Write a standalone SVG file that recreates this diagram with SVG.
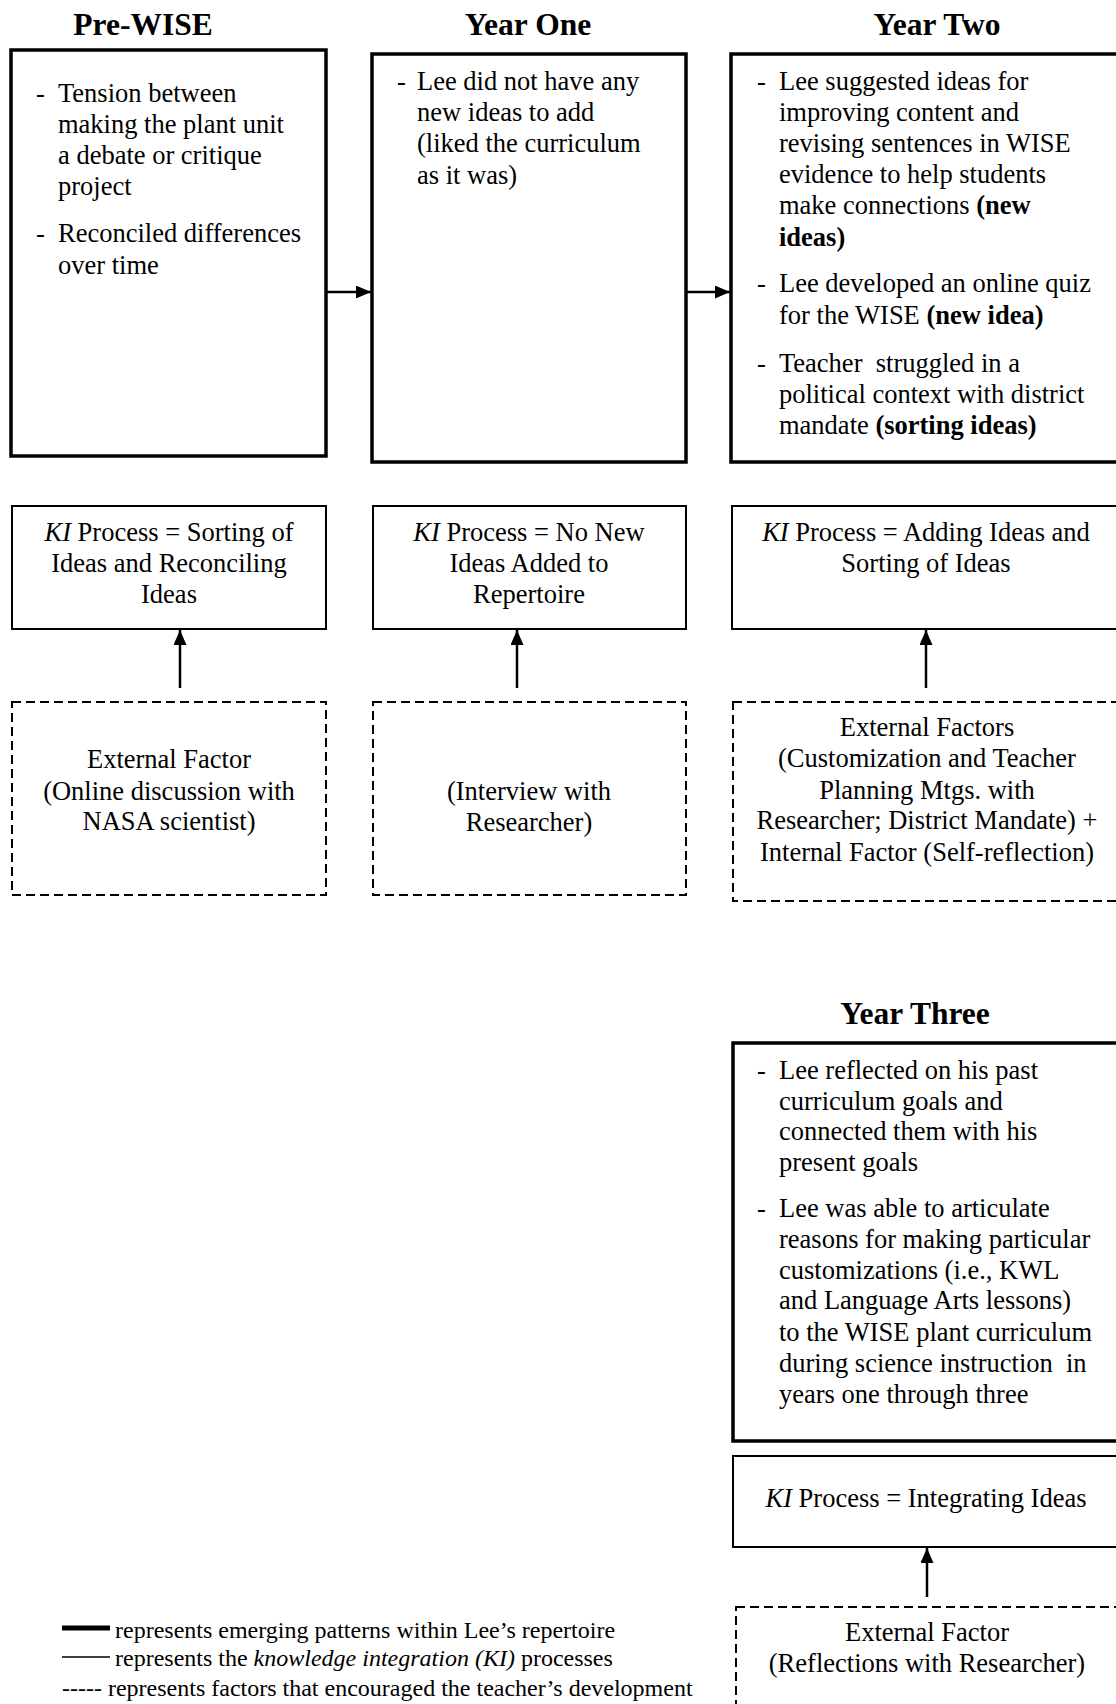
<svg xmlns="http://www.w3.org/2000/svg" width="1116" height="1704" viewBox="0 0 1116 1704">
<style>
text { font-family: "Liberation Serif", "Times New Roman", serif; fill: #000; }
.title { font-size: 31.5px; font-weight: bold; text-anchor: middle; }
.body { font-size: 26.5px; }
.c { text-anchor: middle; }
.b { font-weight: bold; }
.i { font-style: italic; }
.legend { font-size: 24px; }
.thick { fill: #fff; stroke: #000; stroke-width: 3.5; }
.thin { fill: #fff; stroke: #000; stroke-width: 2; }
.dash { fill: none; stroke: #000; stroke-width: 2; stroke-dasharray: 9 5; }
.conn { stroke: #000; stroke-width: 2.5; fill: none; }
</style>
<defs>
<marker id="ah" viewBox="0 0 15 13" refX="15" refY="6.5" markerWidth="15" markerHeight="13" markerUnits="userSpaceOnUse" orient="auto">
<path d="M0,0 L15,6.5 L0,13 Z" fill="#000"/>
</marker>
</defs>
<rect width="1116" height="1704" fill="#fff"/>

<g id="prewise">
<text class="title" x="143" y="35">Pre-WISE</text>
<rect class="thick" x="11" y="50" width="315" height="406"/>
<text class="body" x="36" y="102">-</text>
<text class="body" x="58" y="102">Tension between</text>
<text class="body" x="58" y="133">making the plant unit</text>
<text class="body" x="58" y="164">a debate or critique</text>
<text class="body" x="58" y="195">project</text>
<text class="body" x="36" y="242">-</text>
<text class="body" x="58" y="242">Reconciled differences</text>
<text class="body" x="58" y="274">over time</text>
</g>

<g id="yearone">
<text class="title" x="528" y="35">Year One</text>
<rect class="thick" x="372" y="54" width="314" height="408"/>
<text class="body" x="397" y="90">-</text>
<text class="body" x="417" y="90">Lee did not have any</text>
<text class="body" x="417" y="121">new ideas to add</text>
<text class="body" x="417" y="152">(liked the curriculum</text>
<text class="body" x="417" y="184">as it was)</text>
</g>

<g id="yeartwo">
<text class="title" x="937" y="35">Year Two</text>
<rect class="thick" x="731" y="54" width="400" height="408"/>
<text class="body" x="757" y="90">-</text>
<text class="body" x="779" y="90">Lee suggested ideas for</text>
<text class="body" x="779" y="121">improving content and</text>
<text class="body" x="779" y="152">revising sentences in WISE</text>
<text class="body" x="779" y="183">evidence to help students</text>
<text class="body" x="779" y="214">make connections <tspan class="b">(new</tspan></text>
<text class="body b" x="779" y="246">ideas)</text>
<text class="body" x="757" y="292">-</text>
<text class="body" x="779" y="292">Lee developed an online quiz</text>
<text class="body" x="779" y="324">for the WISE <tspan class="b">(new idea)</tspan></text>
<text class="body" x="757" y="372">-</text>
<text class="body" x="779" y="372" xml:space="preserve">Teacher  struggled in a</text>
<text class="body" x="779" y="403">political context with district</text>
<text class="body" x="779" y="434">mandate <tspan class="b">(sorting ideas)</tspan></text>
</g>

<g id="ki-prewise">
<rect class="thin" x="12" y="506" width="314" height="123"/>
<text class="body c" x="169" y="541"><tspan class="i">KI</tspan> Process = Sorting of</text>
<text class="body c" x="169" y="572">Ideas and Reconciling</text>
<text class="body c" x="169" y="603">Ideas</text>
</g>

<g id="ki-yearone">
<rect class="thin" x="373" y="506" width="313" height="123"/>
<text class="body c" x="529" y="541"><tspan class="i">KI</tspan> Process = No New</text>
<text class="body c" x="529" y="572">Ideas Added to</text>
<text class="body c" x="529" y="603">Repertoire</text>
</g>

<g id="ki-yeartwo">
<rect class="thin" x="732" y="506" width="400" height="123"/>
<text class="body c" x="926" y="541"><tspan class="i">KI</tspan> Process = Adding Ideas and</text>
<text class="body c" x="926" y="572">Sorting of Ideas</text>
</g>

<g id="ext-prewise">
<rect class="dash" x="12" y="702" width="314" height="193"/>
<text class="body c" x="169" y="768">External Factor</text>
<text class="body c" x="169" y="800">(Online discussion with</text>
<text class="body c" x="169" y="830">NASA scientist)</text>
</g>

<g id="ext-yearone">
<rect class="dash" x="373" y="702" width="313" height="193"/>
<text class="body c" x="529" y="800">(Interview with</text>
<text class="body c" x="529" y="831">Researcher)</text>
</g>

<g id="ext-yeartwo">
<rect class="dash" x="733" y="702" width="400" height="199"/>
<text class="body c" x="927" y="736">External Factors</text>
<text class="body c" x="927" y="767">(Customization and Teacher</text>
<text class="body c" x="927" y="799">Planning Mtgs. with</text>
<text class="body c" x="927" y="829">Researcher; District Mandate) +</text>
<text class="body c" x="927" y="861">Internal Factor (Self-reflection)</text>
</g>

<g id="yearthree">
<text class="title" x="915" y="1024">Year Three</text>
<rect class="thick" x="733" y="1043" width="400" height="398"/>
<text class="body" x="757" y="1079">-</text>
<text class="body" x="779" y="1079">Lee reflected on his past</text>
<text class="body" x="779" y="1110">curriculum goals and</text>
<text class="body" x="779" y="1140">connected them with his</text>
<text class="body" x="779" y="1171">present goals</text>
<text class="body" x="757" y="1217">-</text>
<text class="body" x="779" y="1217">Lee was able to articulate</text>
<text class="body" x="779" y="1248">reasons for making particular</text>
<text class="body" x="779" y="1279">customizations (i.e., KWL</text>
<text class="body" x="779" y="1309">and Language Arts lessons)</text>
<text class="body" x="779" y="1341">to the WISE plant curriculum</text>
<text class="body" x="779" y="1372" xml:space="preserve">during science instruction  in</text>
<text class="body" x="779" y="1403">years one through three</text>
</g>

<g id="ki-yearthree">
<rect class="thin" x="733" y="1456" width="400" height="91"/>
<text class="body c" x="926" y="1507"><tspan class="i">KI</tspan> Process = Integrating Ideas</text>
</g>

<g id="ext-yearthree">
<rect class="dash" x="736" y="1607" width="400" height="120"/>
<text class="body c" x="927" y="1641">External Factor</text>
<text class="body c" x="927" y="1672">(Reflections with Researcher)</text>
</g>

<g id="connectors">
<line class="conn" x1="327" y1="292" x2="371" y2="292" marker-end="url(#ah)"/>
<line class="conn" x1="687" y1="292" x2="730" y2="292" marker-end="url(#ah)"/>
<line class="conn" x1="180" y1="688" x2="180" y2="630" marker-end="url(#ah)"/>
<line class="conn" x1="517" y1="688" x2="517" y2="630" marker-end="url(#ah)"/>
<line class="conn" x1="926" y1="688" x2="926" y2="630" marker-end="url(#ah)"/>
<line class="conn" x1="927" y1="1597" x2="927" y2="1548" marker-end="url(#ah)"/>
</g>

<g id="legend">
<line x1="62" y1="1628" x2="110" y2="1628" stroke="#000" stroke-width="5"/>
<text class="legend" x="115" y="1638">represents emerging patterns within Lee’s repertoire</text>
<line x1="62" y1="1657" x2="110" y2="1657" stroke="#000" stroke-width="1.6"/>
<text class="legend" x="115" y="1666">represents the <tspan class="i">knowledge integration (KI)</tspan> processes</text>
<text class="legend" x="62" y="1696">----- represents factors that encouraged the teacher’s development</text>
</g>
</svg>
